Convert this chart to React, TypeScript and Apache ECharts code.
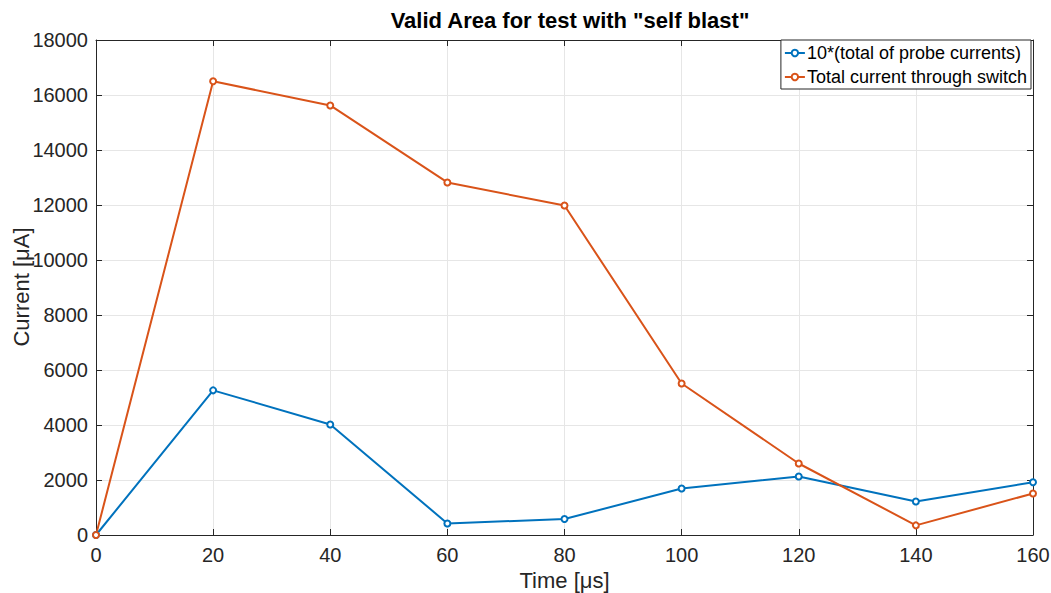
import React, { useEffect, useRef } from "react";
import * as echarts from "echarts";

const times = [0, 20, 40, 60, 80, 100, 120, 140, 160];
const probeCurrents10x = [0, 5260, 4020, 420, 580, 1690, 2130, 1220, 1920];
const switchCurrent = [0, 16500, 15620, 12820, 11980, 5510, 2600, 350, 1510];
const seriesNames = ["10*(total of probe currents)", "Total current through switch"];

const FONT = "'Liberation Sans', Arial, Helvetica, sans-serif";
const AXIS = "#262626";

export default function App() {
  const ref = useRef<HTMLDivElement>(null);
  useEffect(() => {
    if (!ref.current) return;
    const chart = echarts.init(ref.current, null, { renderer: "svg" });
    const mk = (vals: number[]) => times.map((t, i) => [t, vals[i]]);
    const boxAxis = {
      type: "value" as const,
      min: 0,
      axisLine: { show: true, onZero: false, lineStyle: { color: AXIS, width: 1 } },
      axisTick: { show: true, inside: true, length: 6, lineStyle: { color: AXIS } },
      axisLabel: { show: false },
      splitLine: { show: false },
    };
    chart.setOption({
      animation: false,
      backgroundColor: "#ffffff",
      title: {
        text: 'Valid Area for test with "self blast"',
        left: 565,
        textAlign: "center",
        top: 4,
        textStyle: { fontFamily: FONT, fontSize: 22, fontWeight: "bold", color: "#000" },
      },
      graphic: [
        {
          type: "text",
          x: 21,
          y: 287,
          rotation: Math.PI / 2,
          style: {
            text: "Current [μA]",
            fontFamily: FONT,
            fontSize: 22,
            fill: AXIS,
            align: "center",
            verticalAlign: "middle",
          },
        },
      ],
      grid: { left: 96, top: 40, right: 18, bottom: 58, containLabel: false, outerBoundsMode: "none" },
      legend: {
        orient: "vertical",
        right: 20,
        top: 40,
        backgroundColor: "#fff",
        borderColor: AXIS,
        borderWidth: 1,
        borderRadius: 0,
        padding: [4, 4, 3, 3],
        itemGap: 6,
        itemWidth: 20,
        itemHeight: 8,
        textStyle: { fontFamily: FONT, fontSize: 18, color: "#000", padding: [0, 0, 0, -3] },
        data: seriesNames,
      },
      xAxis: [
        {
          type: "value",
          min: 0,
          max: 160,
          interval: 20,
          name: "Time [μs]",
          nameLocation: "middle",
          nameGap: 34,
          nameMoveOverlap: false,
          nameTextStyle: { fontFamily: FONT, fontSize: 22, color: AXIS },
          axisLine: { show: true, onZero: false, lineStyle: { color: AXIS, width: 1 } },
          axisTick: { show: true, inside: true, length: 6, lineStyle: { color: AXIS } },
          axisLabel: { fontFamily: FONT, fontSize: 20, color: AXIS, margin: 10, formatter: (v: number) => String(v) },
          splitLine: { show: true, lineStyle: { color: "#e6e6e6", width: 1 } },
        },
        { ...boxAxis, position: "top", max: 160, interval: 20 },
      ],
      yAxis: [
        {
          type: "value",
          min: 0,
          max: 18000,
          interval: 2000,
          axisLine: { show: true, onZero: false, lineStyle: { color: AXIS, width: 1 } },
          axisTick: { show: true, inside: true, length: 6, lineStyle: { color: AXIS } },
          axisLabel: { fontFamily: FONT, fontSize: 20, color: AXIS, margin: 8, formatter: (v: number) => String(v) },
          splitLine: { show: true, lineStyle: { color: "#e6e6e6", width: 1 } },
        },
        { ...boxAxis, position: "right", max: 18000, interval: 2000 },
      ],
      series: [
        {
          name: seriesNames[0],
          type: "line",
          data: mk(probeCurrents10x),
          symbol: "emptyCircle",
          symbolSize: 6,
          color: "#0072BD",
          lineStyle: { width: 2, color: "#0072BD" },
          itemStyle: { color: "#0072BD", borderWidth: 1.5 },
        },
        {
          name: seriesNames[1],
          type: "line",
          data: mk(switchCurrent),
          symbol: "emptyCircle",
          symbolSize: 6,
          color: "#D95319",
          lineStyle: { width: 2, color: "#D95319" },
          itemStyle: { color: "#D95319", borderWidth: 1.5 },
        },
      ],
    });
    return () => chart.dispose();
  }, []);
  return (
    <div
      ref={ref}
      style={{ position: "fixed", left: 0, top: 0, width: 1051, height: 593 }}
    />
  );
}
